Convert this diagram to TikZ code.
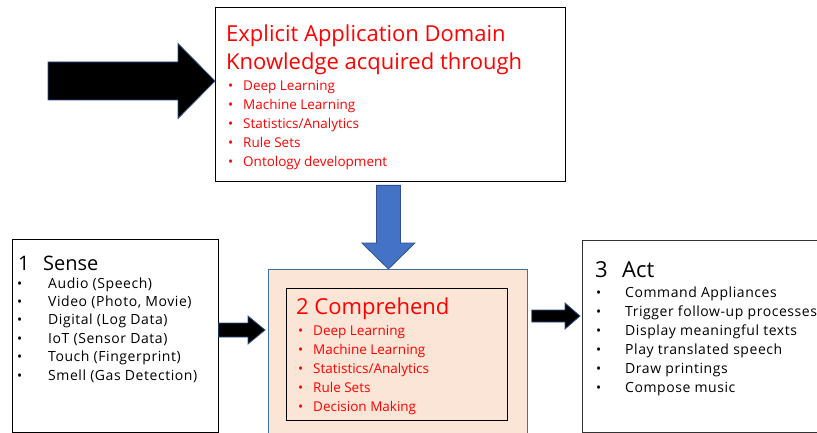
\documentclass[tikz,border=0pt]{standalone}
\usepackage{fontspec}
\setmainfont{Open Sans}
\usetikzlibrary{calc}

\definecolor{peach}{HTML}{FBE5D6}
\definecolor{arrowblue}{HTML}{4472C4}
\definecolor{edgeblue}{HTML}{2F528F}
\definecolor{boxblue}{HTML}{41719C}

% block arrow pointing right: style, tail, tip, shaft half, head half, head length
\newcommand{\harrow}[6]{%
  \draw[#1] let \p1=(#2), \p2=(#3) in
    (\x1,\y2-#4pt) -- (\x2-#6pt,\y2-#4pt) -- (\x2-#6pt,\y2-#5pt) -- (\x2,\y2)
    -- (\x2-#6pt,\y2+#5pt) -- (\x2-#6pt,\y2+#4pt) -- (\x1,\y2+#4pt) -- cycle;}
% block arrow pointing down
\newcommand{\varrow}[6]{%
  \draw[#1] let \p1=(#2), \p2=(#3) in
    (\x2-#4pt,\y1) -- (\x2-#4pt,\y2+#6pt) -- (\x2-#5pt,\y2+#6pt) -- (\x2,\y2)
    -- (\x2+#5pt,\y2+#6pt) -- (\x2+#4pt,\y2+#6pt) -- (\x2+#4pt,\y1) -- cycle;}

\begin{document}
\begin{tikzpicture}[
        x=1pt, y=-1pt,
        box/.style={rectangle, draw, inner sep=0pt, anchor=north west},
        head/.style={anchor=base west, inner sep=0pt, font=\fontsize{22}{26}\selectfont},
        item/.style={anchor=base west, inner sep=0pt, font=\fontsize{13.5}{16}\selectfont},
        wideitem/.style={item, font=\fontsize{14}{16}\selectfont\addfontfeature{LetterSpace=4}},
        blackarrow/.style={fill=black, draw=edgeblue, line width=0.8pt},
        bluearrow/.style={fill=arrowblue, draw=edgeblue, line width=0.8pt},
    ]
        \useasboundingbox (0,0) rectangle (817,433);

        % Boxes
        \node[box, line width=1.4pt, minimum width=350pt, minimum height=174pt] (know) at (215,7) {};
        \node[box, line width=0.8pt, minimum width=206pt, minimum height=193pt] (sense) at (12,239) {};
        \node[box, draw=boxblue, fill=peach, line width=0.8pt, minimum width=259pt, minimum height=166pt] (comp) at (268,269) {};
        \node[box, line width=0.8pt, minimum width=221pt, minimum height=132pt] (compin) at (286,288) {};
        \node[box, draw=black!80, line width=0.8pt, minimum width=240pt, minimum height=192pt] (act) at (582,240) {};

        % Knowledge box text
        \node[head, red] (kt1) at ([shift={(11,35)}]know.north west) {Explicit Application Domain};
        \node[head, red] (kt2) at ([shift={(11,63)}]know.north west) {Knowledge acquired through};
        \foreach \t [count=\i] in {Deep Learning, Machine Learning, Statistics/Analytics, Rule Sets, Ontology development} {
            \node[item, red] (kb\i) at ([shift={(13,{84+19*(\i-1)})}]know.north west) {•};
            \node[item, red] (ki\i) at ([shift={(28,{84+19*(\i-1)})}]know.north west) {\t};
        }

        % Sense box text
        \node[head, font=\fontsize{20}{24}\selectfont] (s1) at ([shift={(6,31)}]sense.north west) {1};
        \node[head, font=\fontsize{20}{24}\selectfont] (s2) at ([shift={(31,31)}]sense.north west) {Sense};
        \foreach \t [count=\i] in {Audio (Speech), {Video (Photo, Movie)}, Digital (Log Data), IoT (Sensor Data), Touch (Fingerprint), Smell (Gas Detection)} {
            \node[item] (sb\i) at ([shift={(5,{49+18.4*(\i-1)})}]sense.north west) {•};
            \node[wideitem] (si\i) at ([shift={(36,{49+18.4*(\i-1)})}]sense.north west) {\t};
        }

        % Comprehend box text
        \node[head, red] (c1) at ([shift={(10,26)}]compin.north west) {2 Comprehend};
        \foreach \t [count=\i] in {Deep Learning, Machine Learning, Statistics/Analytics, Rule Sets, Decision Making} {
            \node[item, red] (cb\i) at ([shift={(12,{47+19.2*(\i-1)})}]compin.north west) {•};
            \node[item, red] (ci\i) at ([shift={(27,{47+19.2*(\i-1)})}]compin.north west) {\t};
        }

        % Act box text
        \node[head] (a1) at ([shift={(13,37)}]act.north west) {3};
        \node[head] (a2) at ([shift={(40,37)}]act.north west) {Act};
        \foreach \t [count=\i] in {Command Appliances, Trigger follow-up processes, Display meaningful texts, Play translated speech, Draw printings, Compose music} {
            \node[item] (ab\i) at ([shift={(14,{57+19*(\i-1)})}]act.north west) {•};
            \node[wideitem] (ai\i) at ([shift={(43,{57+19*(\i-1)})}]act.north west) {\t};
        }

        % Arrow ends
        \coordinate (kin) at ([shift={(0,74)}]know.north west);
        \coordinate (kfrom) at (48,81);
        \coordinate (cfrom) at ([shift={(-2.5,3)}]know.south);
        \coordinate (cin) at ([shift={(-9.5,0)}]comp.north);
        \coordinate (sout) at ([shift={(0,91)}]sense.north east);
        \coordinate (sin) at ([shift={(-3,61)}]comp.north west);
        \coordinate (cout) at ([shift={(4,47)}]comp.north east);
        \coordinate (ain) at ([shift={(-2,76)}]act.north west);

        % Block arrows
        \harrow{blackarrow}{kfrom}{kin}{19}{37.5}{37}
        \varrow{bluearrow}{cfrom}{cin}{12}{26.5}{26}
        \harrow{blackarrow}{sout}{sin}{7}{14}{17}
        \harrow{blackarrow}{cout}{ain}{6}{13}{15}
    \end{tikzpicture}
\end{document}
